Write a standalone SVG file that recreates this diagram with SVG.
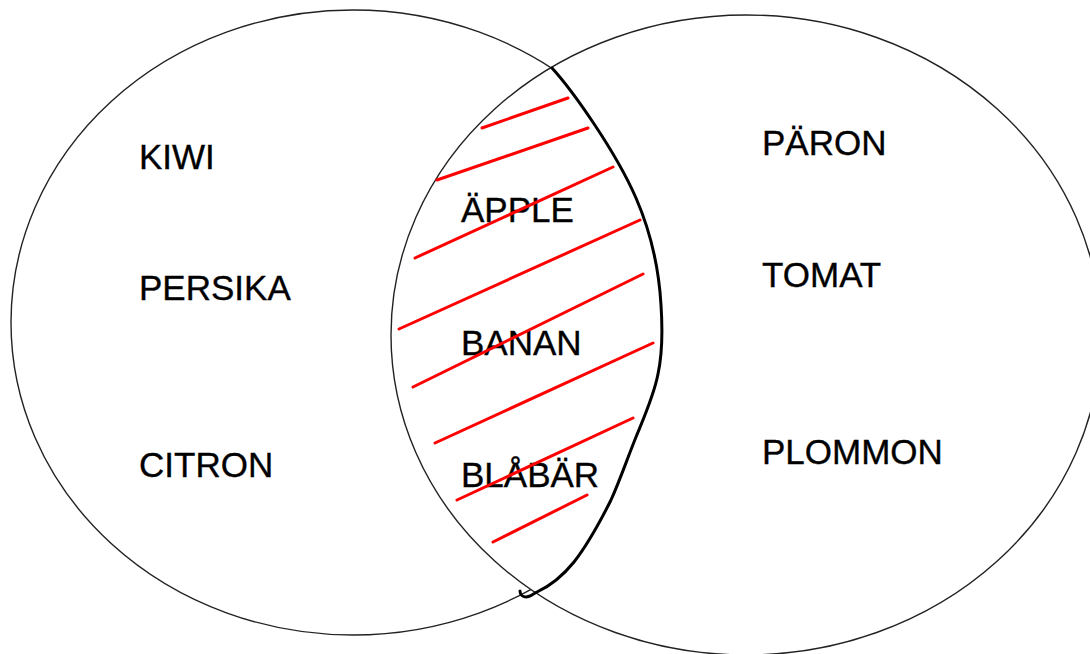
<svg xmlns="http://www.w3.org/2000/svg" width="1090" height="654" viewBox="0 0 1090 654">
<style>
.set{stroke:#222;stroke-width:1.4}
.lbl{font-family:"Liberation Sans",Arial,Helvetica,sans-serif;font-size:35px;fill:#000;stroke:#000;stroke-width:0.35}
.hatch{stroke:#ff0000;stroke-width:3;stroke-linecap:round;fill:none}
.edge{stroke:#000;stroke-width:3;fill:none;stroke-linecap:round;stroke-linejoin:round}
</style>
<rect width="1090" height="654" fill="#fff"/>
<g id="set-left">
<ellipse class="set" cx="353" cy="322.5" rx="342" ry="312.5" fill="none"/>
</g>
<g id="set-right">
<ellipse class="set" cx="746" cy="335" rx="355" ry="320" fill="#fff"/>
</g>
<g id="labels-left">
<text class="lbl" x="139" y="169">KIWI</text>
<text class="lbl" x="139" y="300">PERSIKA</text>
<text class="lbl" x="139" y="477">CITRON</text>
</g>
<g id="labels-right">
<text class="lbl" x="762" y="155">PÄRON</text>
<text class="lbl" x="762" y="287">TOMAT</text>
<text class="lbl" x="762" y="464">PLOMMON</text>
</g>
<g id="labels-intersection">
<text class="lbl" x="461" y="222">ÄPPLE</text>
<text class="lbl" x="461" y="355">BANAN</text>
<text class="lbl" x="461" y="487">BLÅBÄR</text>
</g>
<g id="connectors">
<g id="hatching">
<line class="hatch" x1="482" y1="128" x2="568" y2="98"/>
<line class="hatch" x1="437" y1="180" x2="588" y2="128"/>
<line class="hatch" x1="415" y1="258" x2="613" y2="167"/>
<line class="hatch" x1="399" y1="329" x2="640" y2="220"/>
<line class="hatch" x1="413" y1="387" x2="643" y2="274"/>
<line class="hatch" x1="435" y1="443" x2="653" y2="343"/>
<line class="hatch" x1="457" y1="500" x2="633" y2="418"/>
<line class="hatch" x1="493" y1="542" x2="587" y2="495"/>
</g>
<path id="lens-edge" class="edge" d="M552,68 C572,90 615,150 636,198 C652,235 659,270 661,305 C663,335 661,360 658,374 C654,395 645,415 636,437 C626,462 620,480 611,500 C600,522 588,544 574,562 C561,578 550,586 537,592 C533,594 530,597 526,597 C522,597 520,594 520,591"/>
</g>
</svg>
